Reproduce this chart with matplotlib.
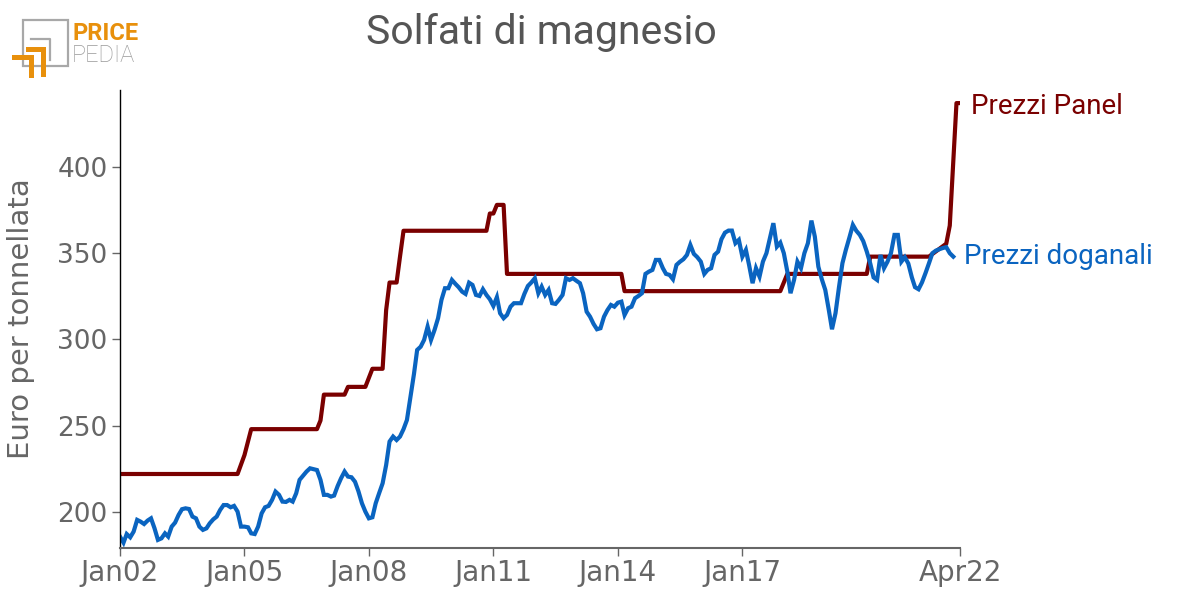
import matplotlib
matplotlib.use("Agg")
import matplotlib.pyplot as plt
from matplotlib.patches import Rectangle
import pandas as pd

# monthly customs prices, Jan 2002 .. Feb 2022
doganali = [
    185.7, 182.2, 187.2, 185.3, 188.6, 195.4, 194.4, 193.0, 195.0, 196.3, 190.5, 183.8,
    184.7, 187.6, 185.7, 191.5, 193.8, 198.3, 201.6, 202.1, 201.7, 197.3, 196.3, 191.5,
    189.6, 190.5, 193.4, 195.7, 197.3, 201.2, 204.0, 204.0, 202.7, 203.5, 200.2, 191.5,
    191.5, 191.1, 187.6, 187.2, 191.5, 199.2, 202.7, 203.5, 207.0, 211.8, 209.9, 206.0,
    205.8, 207.0, 206.0, 210.8, 218.6, 221.0, 223.4, 225.3, 224.8, 224.3, 218.6, 209.9,
    209.9, 208.9, 209.5, 215.0, 219.5, 223.4, 220.5, 220.1, 217.5, 212.0, 205.0, 200.2,
    196.3, 196.9, 205.0, 211.0, 216.6, 227.2, 240.8, 243.7, 241.7, 243.7, 248.0, 253.3,
    266.8, 280.0, 293.9, 295.8, 299.7, 307.4, 299.7, 305.5, 312.3, 322.9, 329.7, 329.7,
    334.5, 332.2, 330.3, 327.7, 326.4, 332.9, 331.6, 325.8, 325.2, 329.1, 325.8, 323.3,
    319.4, 324.5, 315.2, 312.3, 314.2, 319.0, 321.0, 321.0, 321.0, 326.4, 331.0, 333.0,
    335.5, 326.8, 330.6, 325.8, 328.7, 321.0, 320.6, 323.0, 325.8, 335.5, 334.5, 335.5,
    334.0, 332.6, 326.8, 316.1, 313.2, 309.0, 305.9, 306.5, 313.2, 317.0, 320.0, 319.0,
    321.3, 321.9, 314.2, 318.1, 319.0, 323.9, 325.2, 326.8, 338.0, 339.3, 340.3, 346.1,
    346.1, 341.3, 338.0, 337.4, 334.9, 343.2, 345.0, 346.5, 349.0, 354.8, 349.6, 347.7,
    345.1, 338.0, 340.3, 341.3, 349.0, 350.9, 358.1, 361.9, 363.1, 363.1, 355.8, 357.7,
    348.0, 351.9, 343.2, 332.6, 341.3, 336.4, 345.1, 350.0, 358.7, 367.4, 353.8, 356.1,
    350.0, 339.3, 326.8, 334.5, 345.1, 341.3, 350.0, 355.8, 368.9, 359.6, 342.2, 335.0,
    328.7, 317.1, 305.9, 315.2, 330.0, 344.2, 351.9, 359.0, 366.4, 363.0, 360.6, 357.0,
    351.0, 344.0, 336.0, 334.5, 349.0, 341.3, 345.0, 350.0, 360.6, 360.6, 345.1, 347.7,
    344.0, 336.0, 330.3, 329.1, 333.0, 338.4, 344.0, 350.0, 351.5, 352.3, 353.0, 353.5,
    350.0, 348.0,
]
doganali_dates = pd.date_range("2002-01-01", periods=len(doganali), freq="MS")

# panel prices: months where the level changes
panel_dates = [
    "2002-01", "2004-11", "2005-01", "2005-03", "2006-10", "2006-11", "2006-12",
    "2007-06", "2007-07", "2007-12", "2008-02", "2008-05", "2008-06", "2008-07",
    "2008-09", "2008-10", "2008-11", "2010-11", "2010-12", "2011-01", "2011-02",
    "2011-04", "2011-05", "2014-02", "2014-03", "2017-12", "2018-02", "2020-01",
    "2020-02", "2021-07", "2021-12", "2022-01", "2022-03", "2022-04",
]
panel = [
    222, 222, 233, 248, 248, 253, 268,
    268, 272.5, 272.5, 283, 283, 317, 333,
    333, 348, 363, 363, 373, 373, 378,
    378, 338, 338, 328, 328, 338, 338,
    348, 348, 355.5, 366, 437, 437,
]
panel_dates = pd.to_datetime(panel_dates)

tick_dates = pd.to_datetime(["2002-01", "2005-01", "2008-01", "2011-01",
                             "2014-01", "2017-01", "2022-04"])
tick_labels = ["Jan02", "Jan05", "Jan08", "Jan11", "Jan14", "Jan17", "Apr22"]
y_ticks = [200, 250, 300, 350, 400]
y_min, y_max = 179.1, 444.6

red = "#7a0000"
blue = "#0a64c0"
grey = "#666666"

fig = plt.figure(figsize=(11.78, 6.08), dpi=100)
ax = fig.add_axes([120 / 1178, 60 / 608, 840 / 1178, 458 / 608])

ax.plot(panel_dates, panel, color=red, lw=3, solid_capstyle="butt")
ax.plot(doganali_dates, doganali, color=blue, lw=3, solid_joinstyle="miter")

ax.set_xlim(tick_dates[0], tick_dates[-1])
ax.set_ylim(y_min, y_max)
ax.set_xticks(tick_dates)
ax.set_xticklabels(tick_labels, fontsize=20, color=grey)
ax.set_yticks(y_ticks)
ax.set_yticklabels([str(v) for v in y_ticks], fontsize=19, color=grey)
ax.tick_params(axis="x", length=6, width=1, color=grey, pad=2)
ax.tick_params(axis="y", length=6, width=1, color=grey, pad=3)

for s in ["top", "right"]:
    ax.spines[s].set_visible(False)
ax.spines["left"].set_color("black")
ax.spines["left"].set_linewidth(1)
ax.spines["bottom"].set_color(grey)
ax.spines["bottom"].set_linewidth(1.5)

ax.set_ylabel("Euro per tonnellata", fontsize=21, color=grey, labelpad=16)

ax.text(1.013, (435 - y_min) / (y_max - y_min), "Prezzi Panel", transform=ax.transAxes,
        fontsize=20, color=red, family="Roboto", va="center", ha="left")
ax.text(1.005, (348 - y_min) / (y_max - y_min), "Prezzi doganali", transform=ax.transAxes,
        fontsize=20, color=blue, family="Roboto", va="center", ha="left")

fig.text(541 / 1178, 1 - 33 / 608, "Solfati di magnesio", fontsize=29.5, color="#555555",
         family="Roboto", ha="center", va="center")

# logo, drawn in pixel coordinates
logo = fig.add_axes([0, 0, 1, 1], zorder=-1)
logo.set_xlim(0, 1178)
logo.set_ylim(608, 0)
logo.axis("off")
orange = "#e8900c"
lgrey = "#a8a8a8"
logo.add_patch(Rectangle((23, 20), 45, 46, fill=False, ec=lgrey, lw=1.6))
logo.plot([31, 50, 50], [39, 39, 60], color=lgrey, lw=1.6)
logo.add_patch(Rectangle((26, 47), 20, 5, color=orange, lw=0))
logo.add_patch(Rectangle((41, 47), 5, 30, color=orange, lw=0))
logo.add_patch(Rectangle((12, 55), 22, 5, color=orange, lw=0))
logo.add_patch(Rectangle((29, 55), 5, 23, color=orange, lw=0))
logo.text(73, 34, "PRICE", fontsize=17, color=orange, family="Roboto",
          weight="bold", va="center", ha="left")
logo.text(72, 56, "PEDIA", fontsize=17, color="#999999", family="Roboto",
          weight="light", va="center", ha="left")

fig.savefig("out.png", dpi=100)
